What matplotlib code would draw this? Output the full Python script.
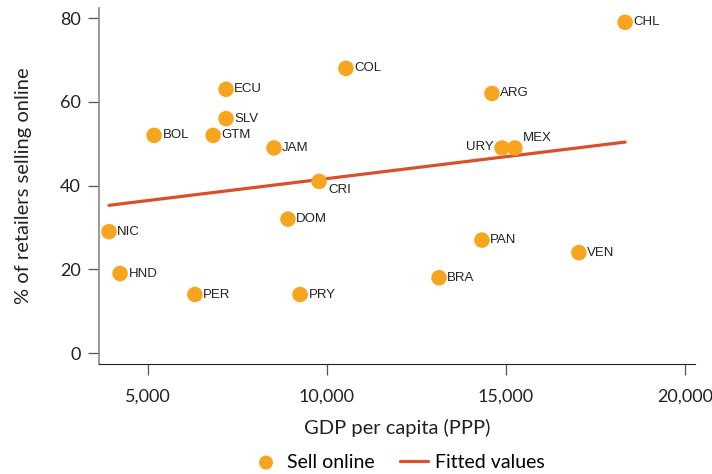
import numpy as np
import matplotlib.pyplot as plt

# datos
paises = ['CHL', 'COL', 'ECU', 'SLV', 'BOL', 'GTM', 'JAM', 'CRI', 'DOM', 'NIC',
          'HND', 'PER', 'PRY', 'BRA', 'PAN', 'VEN', 'ARG', 'URY', 'MEX']
pib = [18330, 10530, 7180, 7180, 5170, 6820, 8520, 9780, 8910, 3910,
       4220, 6310, 9250, 13130, 14330, 17040, 14610, 14890, 15250]
ventas = [79, 68, 63, 56, 52, 52, 49, 41, 32, 29,
          19, 14, 14, 18, 27, 24, 62, 49, 49]
fit_x = [3910, 18330]
fit_y = [35.3, 50.4]

# donde va cada etiqueta respecto al punto
pos_especial = {'CRI': (7, -6, 'left'), 'MEX': (6, 7, 'left'), 'URY': (-6, 1, 'right')}

naranja = '#f7a51f'
rojo = '#d9512c'

plt.rcParams['font.family'] = ['Lato', 'DejaVu Sans']
fig = plt.figure(figsize=(7.12, 4.74), dpi=100)
ax = fig.add_axes([0.139, 0.232, 0.837, 0.751])

ax.plot(fit_x, fit_y, color=rojo, lw=2.3, solid_capstyle='round', zorder=2, label='Fitted values')
ax.scatter(pib, ventas, s=125, color=naranja, edgecolors='none', zorder=3, label='Sell online')

for p, x, y in zip(paises, pib, ventas):
    dx, dy, ha = pos_especial.get(p, (6, 0, 'left'))
    ax.annotate(p, (x, y), xytext=(dx, dy), textcoords='offset points',
                ha=ha, va='center', fontsize=9.5, family='Liberation Sans', color='#222222', zorder=4)

ax.set_xlim(3630, 20280)
ax.set_ylim(-2.6, 82.4)
ax.set_xticks([5000, 10000, 15000, 20000])
ax.set_xticklabels(['5,000', '10,000', '15,000', '20,000'])
ax.set_yticks([0, 20, 40, 60, 80])
ax.tick_params(axis='both', labelsize=13, length=8, width=0.9, colors='#555555', labelcolor='#222222', pad=5)
ax.tick_params(axis='x', pad=10)

for s in ['top', 'right']:
    ax.spines[s].set_visible(False)
ax.spines['left'].set_color('#888888')
ax.spines['left'].set_linewidth(1.2)
ax.spines['bottom'].set_color('#222222')

ax.set_xlabel('GDP per capita (PPP)', fontsize=14.5, color='#222222', labelpad=10)
ax.set_ylabel('% of retailers selling online', fontsize=14.5, color='#222222', labelpad=20)

h, l = ax.get_legend_handles_labels()
fig.legend(h[::-1], l[::-1], loc='center', bbox_to_anchor=(0.56, 0.025), ncol=2, frameon=False,
           fontsize=14, handlelength=1.4, columnspacing=1.3, handletextpad=0.4, markerscale=0.9)

fig.savefig('out.png', dpi=100)
